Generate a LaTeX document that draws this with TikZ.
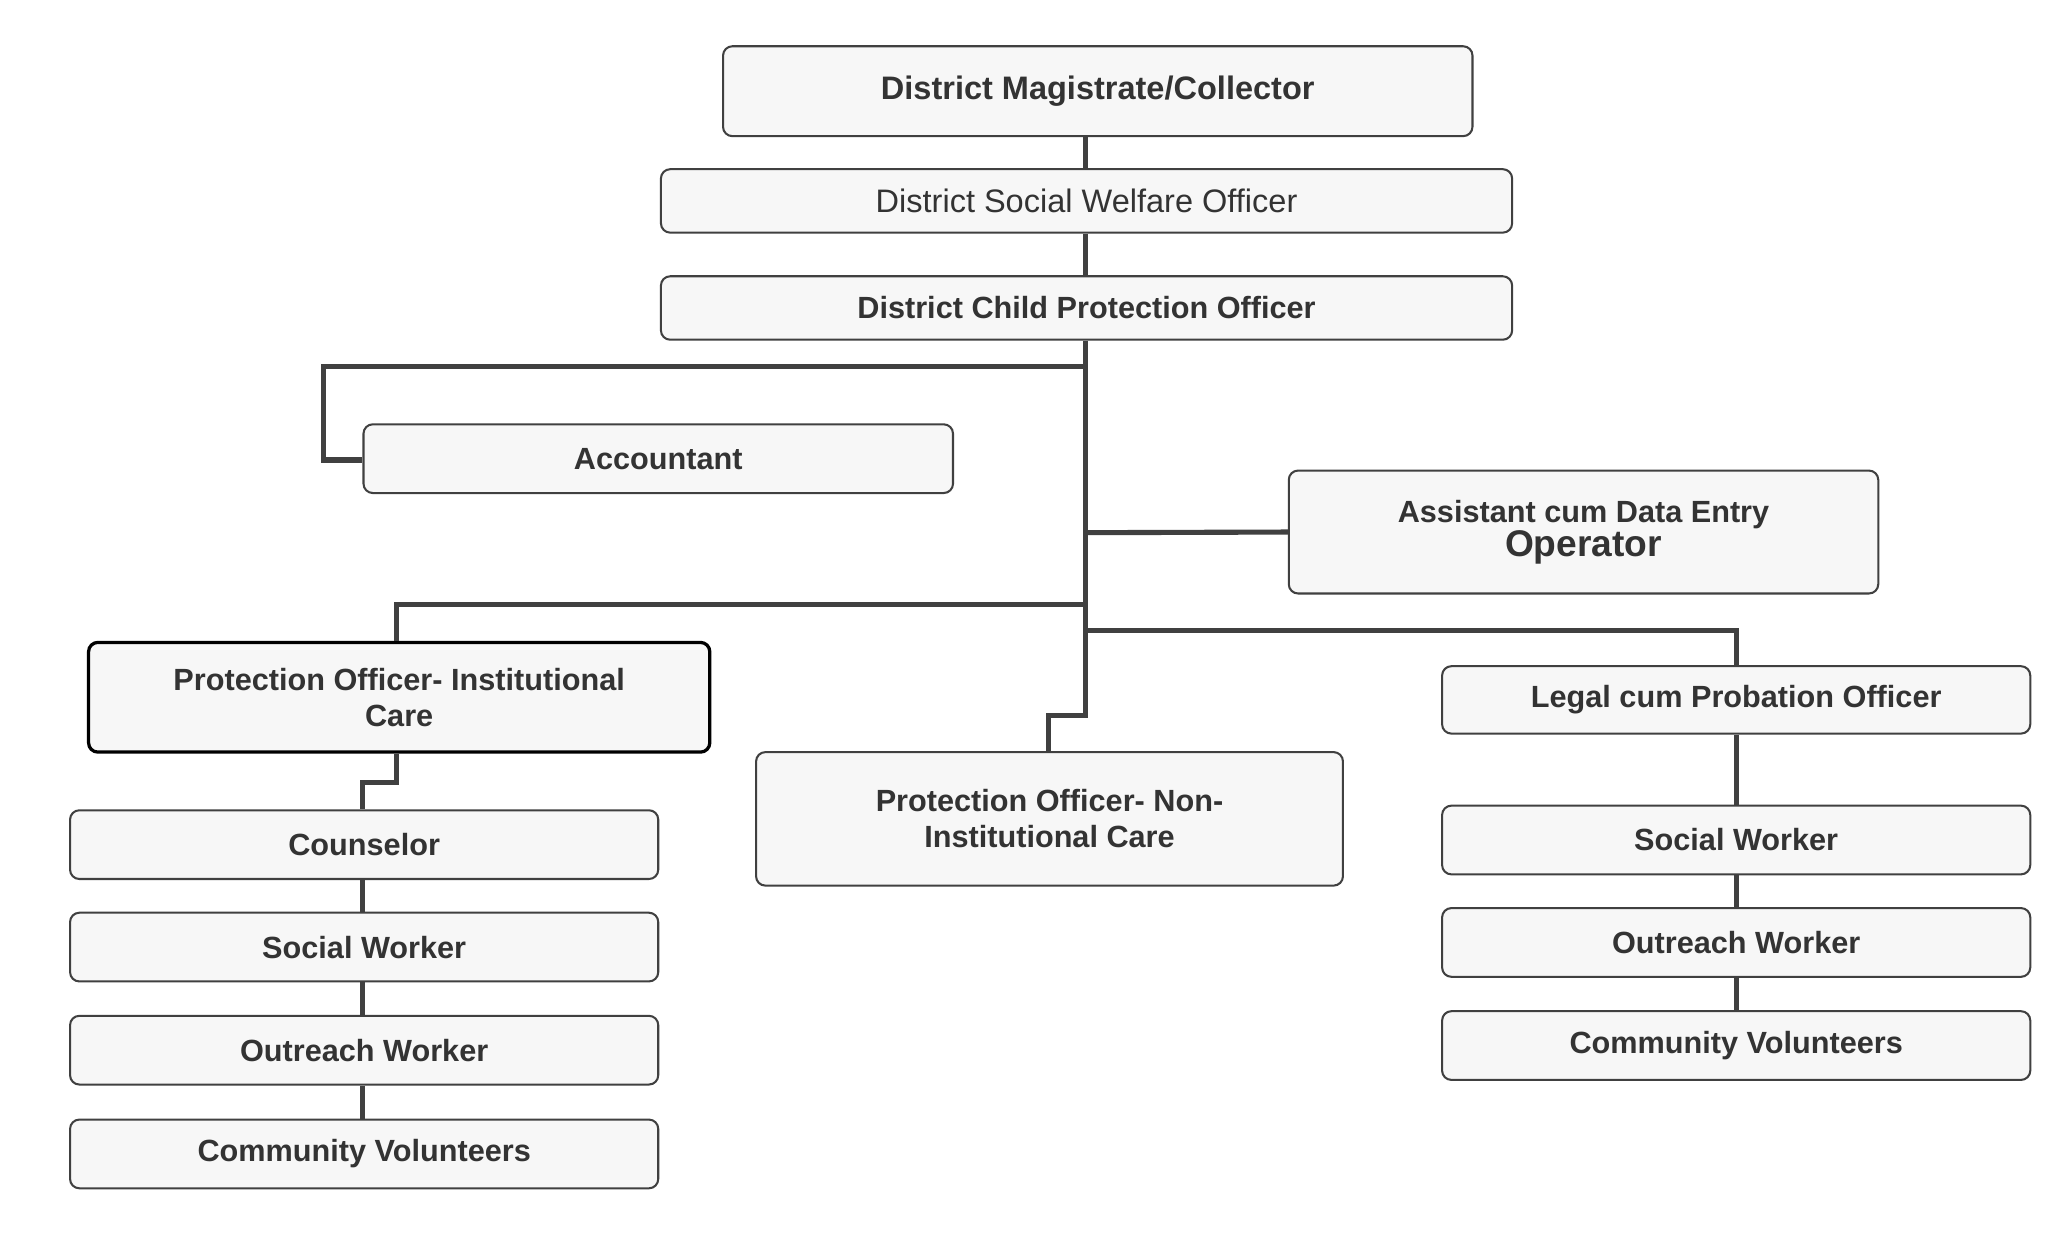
\documentclass[tikz,border=0pt]{standalone}
\usepackage{fontspec}
\setmainfont{Liberation Sans}
\begin{document}
\begin{tikzpicture}[x=0.05cm,y=-0.05cm,
 box/.style={draw=black!75,line width=2.2pt,rounded corners=10pt,fill=black!3,font=\bfseries\fontsize{33}{39}\selectfont,text=black!80,align=center,inner sep=0pt},
 conn/.style={draw=black!75,line width=5.5pt}]
\useasboundingbox[fill=white] (0,0) rectangle (1560,943);
\node[box,minimum width=28.35cm,minimum height=3.4cm,font=\bfseries\fontsize{35}{40}\selectfont] (dm) at (830.5,69) {District Magistrate/Collector};
\node[box,minimum width=32.2cm,minimum height=2.4cm,font=\fontsize{35}{40}\selectfont] (dswo) at (822,152) {District Social Welfare Officer};
\node[box,minimum width=32.2cm,minimum height=2.4cm] (dcpo) at (822,233) {District Child Protection Officer};
\node[box,minimum width=22.3cm,minimum height=2.6cm] (acc) at (498,347) {Accountant};
\node[box,minimum width=22.3cm,minimum height=4.65cm] (asst) at (1198,402.5) {Assistant cum Data Entry\\[-2pt]{\fontsize{40}{44}\selectfont Operator}};
\node[box,draw=black,line width=3.5pt,minimum width=23.5cm,minimum height=4.15cm] (poic) at (302,527.5) {Protection Officer- Institutional\\Care};
\node[box,minimum width=22.2cm,minimum height=5.05cm] (ponic) at (794,619.5) {Protection Officer- Non-\\Institutional Care};
\node[box,minimum width=22.25cm,minimum height=2.55cm] (legal) at (1313.5,529.5) {Legal cum Probation Officer};
\node[box,minimum width=22.25cm,minimum height=2.6cm] (l1) at (275.5,639) {Counselor};
\node[box,minimum width=22.25cm,minimum height=2.6cm] (l2) at (275.5,716.5) {Social Worker};
\node[box,minimum width=22.25cm,minimum height=2.6cm] (l3) at (275.5,794.5) {Outreach Worker};
\node[box,minimum width=22.25cm,minimum height=2.6cm] (l4) at (275.5,873) {Community Volunteers};
\node[box,minimum width=22.25cm,minimum height=2.6cm] (r1) at (1313.5,635.5) {Social Worker};
\node[box,minimum width=22.25cm,minimum height=2.6cm] (r2) at (1313.5,713) {Outreach Worker};
\node[box,minimum width=22.25cm,minimum height=2.6cm] (r3) at (1313.5,791) {Community Volunteers};
\coordinate (t) at (821,541);
\draw[conn] (dm.south -| t) -- (dswo.north -| t);
\draw[conn] (dswo.south -| t) -- (dcpo.north -| t);
\draw[conn] (dcpo.south -| t) -- (t) -- (793,541) -- (ponic.north -| 793,0);
\draw[conn] (821,277) -- (245,277) -- (245,348) -- (acc.west |- 0,348);
\draw[conn] (821,403) -- (asst.west);
\draw[conn] (821,457) -- (300,457) -- (poic.north -| 300,0);
\draw[conn] (821,477) -- (1314,477) -- (legal.north -| 1314,0);
\draw[conn] (poic.south -| 300,0) -- (300,592) -- (274,592) -- (l1.north -| 274,0);
\draw[conn] (l1.south -| 274,0) -- (l2.north -| 274,0);
\draw[conn] (l2.south -| 274,0) -- (l3.north -| 274,0);
\draw[conn] (l3.south -| 274,0) -- (l4.north -| 274,0);
\draw[conn] (legal.south -| 1314,0) -- (r1.north -| 1314,0);
\draw[conn] (r1.south -| 1314,0) -- (r2.north -| 1314,0);
\draw[conn] (r2.south -| 1314,0) -- (r3.north -| 1314,0);
\end{tikzpicture}
\end{document}
